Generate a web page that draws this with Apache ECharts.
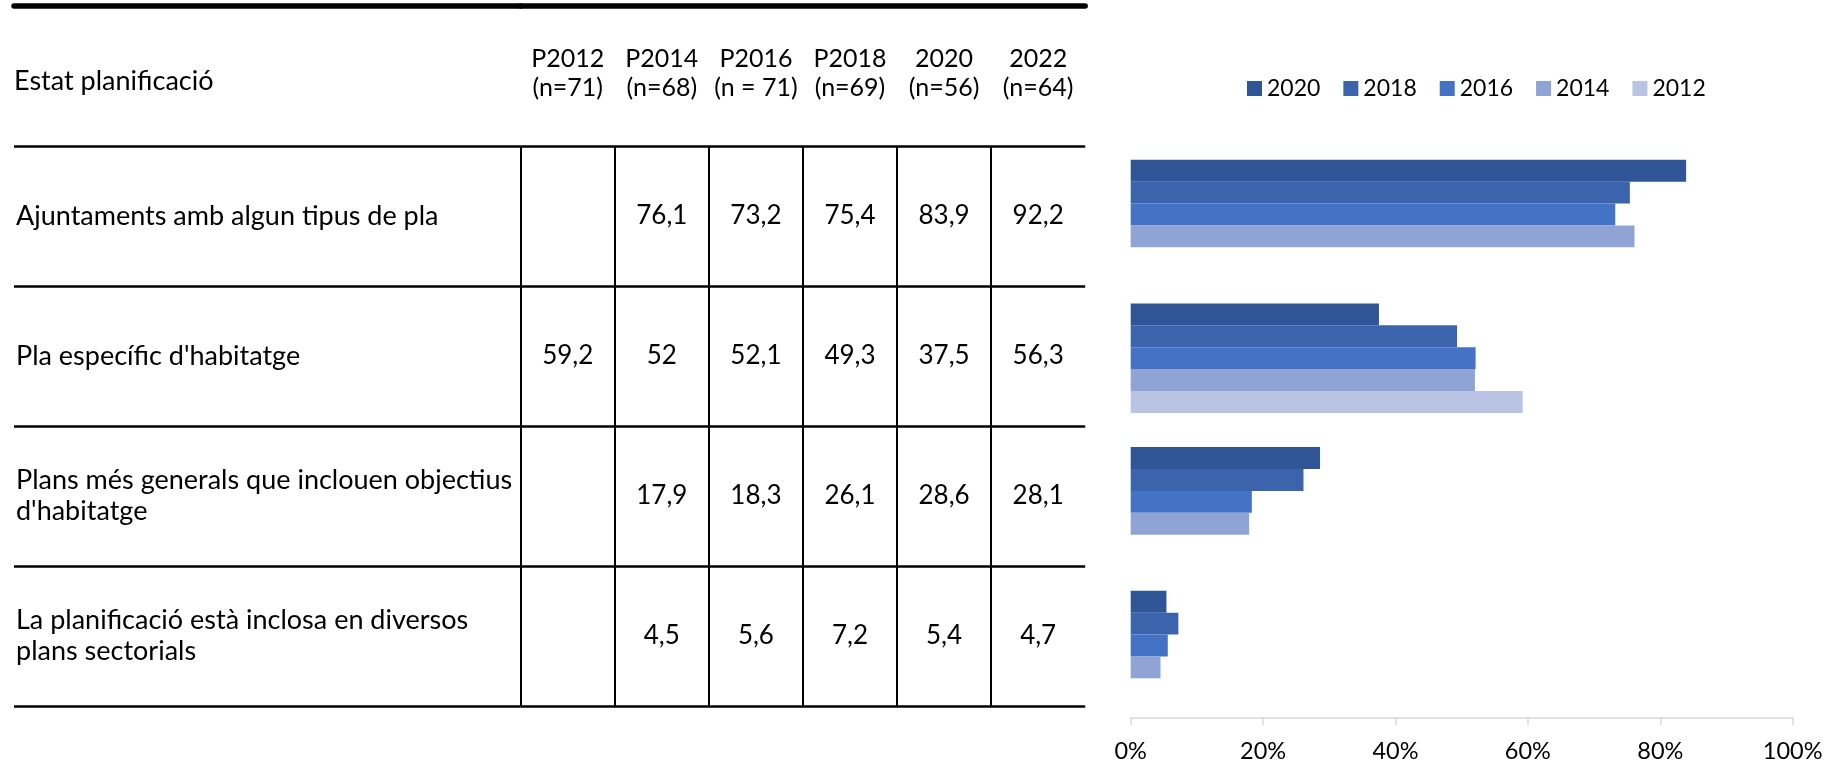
<!DOCTYPE html>
<html>
<head>
<meta charset="utf-8">
<title>Estat planificació</title>
<script src="https://cdn.jsdelivr.net/npm/echarts@6/dist/echarts.min.js"></script>
<style>
  html, body { margin: 0; padding: 0; background: #fff; }
  #chart { width: 1842px; height: 765px; }
</style>
</head>
<body>
<div id="chart"></div>
<script>
// table headers (survey waves) and rows
const columns = ['P2012\n(n=71)', 'P2014\n(n=68)', 'P2016\n(n = 71)', 'P2018\n(n=69)', '2020\n(n=56)', '2022\n(n=64)'];
const rows = [
  'Ajuntaments amb algun tipus de pla',
  "Pla específic d'habitatge",
  "Plans més generals que inclouen objectius\nd'habitatge",
  'La planificació està inclosa en diversos\nplans sectorials'
];

// one array per column, in row order (null = no data)
const p2012 = [null, 59.2, null, null];
const p2014 = [76.1, 52, 17.9, 4.5];
const p2016 = [73.2, 52.1, 18.3, 5.6];
const p2018 = [75.4, 49.3, 26.1, 7.2];
const y2020 = [83.9, 37.5, 28.6, 5.4];
const y2022 = [92.2, 56.3, 28.1, 4.7];

// bar chart series (legend order)
const seriesNames = ['2020', '2018', '2016', '2014', '2012'];
const seriesValues = [y2020, p2018, p2016, p2014, p2012];
const seriesColors = ['#2f5597', '#3b64ad', '#4472c4', '#8fa4d5', '#b9c3e4'];

// percent axis
const axisMax = 100;
const axisStep = 20;

const FONT = 'Lato';
const INK = '#000';

const tableCols = [p2012, p2014, p2016, p2018, y2020, y2022];
const cells = [];
tableCols.forEach((col, c) => {
  col.forEach((v, r) => {
    if (v != null) cells.push([c, r, v]);
  });
});

const fmt = (v) => String(v).replace('.', ',');

const chart = echarts.init(document.getElementById('chart'));

const ruleAxis = {
  position: 'top',
  offset: 140,
  axisLine: { show: true, lineStyle: { color: INK, width: 5.5 } },
  axisTick: { show: false },
  axisLabel: { show: false },
  splitLine: { show: false }
};

const option = {
  animation: false,
  backgroundColor: '#fff',
  textStyle: { fontFamily: FONT },
  legend: {
    data: seriesNames,
    left: 1242,
    top: 72,
    icon: 'rect',
    itemWidth: 15,
    itemHeight: 15,
    itemGap: 23,
    textStyle: { fontFamily: FONT, fontSize: 23, color: INK }
  },
  grid: [
    { left: 14, top: 146, width: 506.7, height: 560, outerBoundsMode: 'none' },
    { left: 520.7, top: 146, width: 564.5, height: 560, outerBoundsMode: 'none' },
    { left: 1130.7, top: 142.7, width: 662, height: 574.6, outerBoundsMode: 'none' }
  ],
  xAxis: [
    Object.assign({ gridIndex: 0, type: 'category', data: [''] }, ruleAxis),
    {
      gridIndex: 1,
      type: 'category',
      data: columns,
      position: 'top',
      axisLine: { show: false },
      axisTick: { show: false },
      axisLabel: {
        interval: 0,
        margin: 44,
        fontFamily: FONT,
        fontSize: 25,
        lineHeight: 28.5,
        color: INK
      },
      splitLine: {
        show: true,
        interval: 0,
        showMaxLine: false,
        lineStyle: { color: INK, width: 2 }
      }
    },
    Object.assign({ gridIndex: 1, type: 'category', data: columns }, ruleAxis),
    {
      gridIndex: 2,
      type: 'value',
      min: 0,
      max: axisMax,
      interval: axisStep,
      axisLine: { show: true, lineStyle: { color: '#d9d9d9', width: 1.5 } },
      axisTick: { show: true, length: 8, lineStyle: { color: '#d9d9d9', width: 1.5 } },
      axisLabel: {
        formatter: '{value}%',
        margin: 22,
        fontFamily: FONT,
        fontSize: 23.5,
        color: INK
      },
      splitLine: { show: false }
    }
  ],
  yAxis: [
    {
      gridIndex: 0,
      type: 'category',
      data: rows,
      inverse: true,
      name: 'Estat planificació',
      nameLocation: 'start',
      nameGap: 65,
      nameTextStyle: {
        align: 'left',
        verticalAlign: 'middle',
        fontFamily: FONT,
        fontSize: 27,
        color: INK
      },
      axisLine: { show: false },
      axisTick: { show: false },
      axisLabel: {
        inside: true,
        margin: 2,
        align: 'left',
        fontFamily: FONT,
        fontSize: 27,
        lineHeight: 31,
        color: INK
      },
      splitLine: { show: true, interval: 0, lineStyle: { color: INK, width: 2.5 } }
    },
    {
      gridIndex: 1,
      type: 'category',
      data: rows,
      inverse: true,
      axisLine: { show: false },
      axisTick: { show: false },
      axisLabel: { show: false },
      splitLine: { show: true, interval: 0, lineStyle: { color: INK, width: 2.5 } }
    },
    {
      gridIndex: 2,
      type: 'category',
      data: rows,
      inverse: true,
      axisLine: { show: false },
      axisTick: { show: false },
      axisLabel: { show: false }
    }
  ],
  series: [
    {
      type: 'custom',
      name: 'taula',
      xAxisIndex: 1,
      yAxisIndex: 1,
      silent: true,
      data: cells,
      renderItem: function (params, api) {
        const p = api.coord([api.value(0), api.value(1)]);
        return {
          type: 'text',
          x: p[0],
          y: p[1],
          style: {
            text: fmt(api.value(2)),
            align: 'center',
            verticalAlign: 'middle',
            fontFamily: FONT,
            fontSize: 26,
            fill: INK
          }
        };
      }
    }
  ].concat(seriesNames.map((name, i) => ({
    type: 'bar',
    name: name,
    xAxisIndex: 3,
    yAxisIndex: 2,
    data: seriesValues[i],
    barGap: '0%',
    barCategoryGap: '23.8%',
    itemStyle: { color: seriesColors[i] }
  })))
};

chart.setOption(option);
</script>
</body>
</html>
